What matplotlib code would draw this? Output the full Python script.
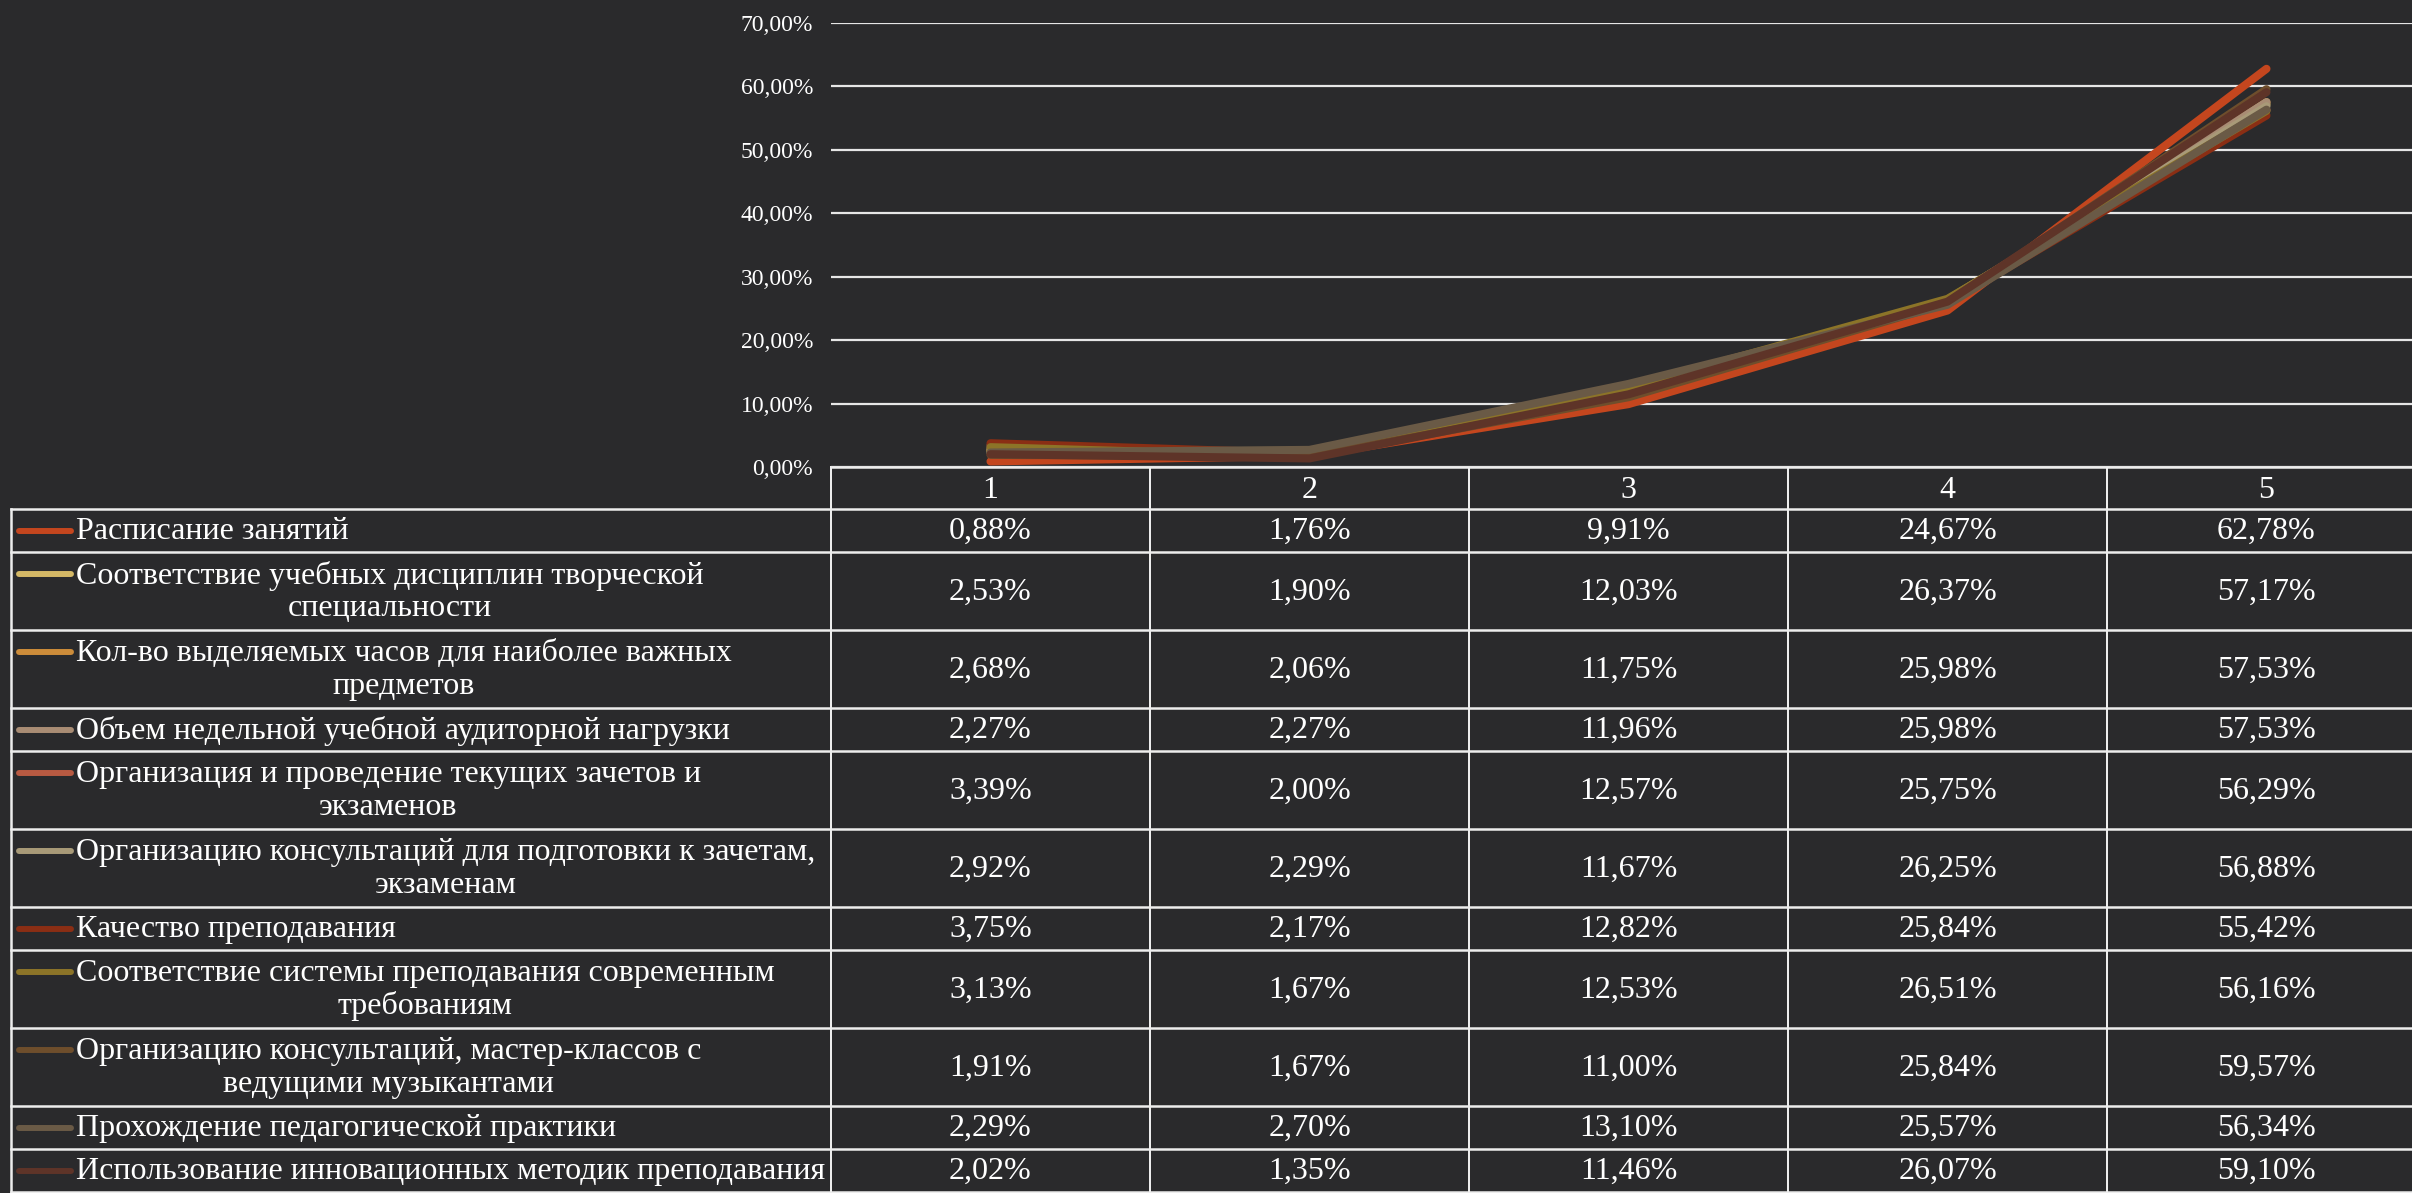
import matplotlib.pyplot as plt
from matplotlib.ticker import FuncFormatter

plt.rcParams['font.family'] = ['Liberation Serif', 'DejaVu Serif']

categories = ['1', '2', '3', '4', '5']

series_names = [
    'Расписание занятий',
    'Соответствие учебных дисциплин творческой\nспециальности',
    'Кол-во выделяемых часов для наиболее важных\nпредметов',
    'Объем недельной учебной аудиторной нагрузки',
    'Организация и проведение текущих зачетов и\nэкзаменов',
    'Организацию консультаций для подготовки к зачетам,\nэкзаменам',
    'Качество преподавания',
    'Соответствие системы преподавания современным\nтребованиям',
    'Организацию консультаций, мастер-классов с\nведущими музыкантами',
    'Прохождение педагогической практики',
    'Использование инновационных методик преподавания',
]

raspisanie = [0.88, 1.76, 9.91, 24.67, 62.78]
sootv_discipl = [2.53, 1.90, 12.03, 26.37, 57.17]
kol_chasov = [2.68, 2.06, 11.75, 25.98, 57.53]
obem_nagruzki = [2.27, 2.27, 11.96, 25.98, 57.53]
zachety = [3.39, 2.00, 12.57, 25.75, 56.29]
konsult_zachety = [2.92, 2.29, 11.67, 26.25, 56.88]
kachestvo = [3.75, 2.17, 12.82, 25.84, 55.42]
sootv_sistemy = [3.13, 1.67, 12.53, 26.51, 56.16]
master_klassy = [1.91, 1.67, 11.00, 25.84, 59.57]
praktika = [2.29, 2.70, 13.10, 25.57, 56.34]
innovacii = [2.02, 1.35, 11.46, 26.07, 59.10]

values = [raspisanie, sootv_discipl, kol_chasov, obem_nagruzki, zachety,
          konsult_zachety, kachestvo, sootv_sistemy, master_klassy,
          praktika, innovacii]

colors = ['#C4461E', '#D4B866', '#CC8C3A', '#A88C74', '#B85A42', '#A89A78',
          '#8A2E14', '#8C7428', '#6E4E2C', '#6A5A46', '#5E3428']

bg = '#2A2A2C'
W, H = 2412, 1193

# layout in pixels
plot_left, plot_top, plot_bottom = 831, 23, 467
col_w = 319
table_left = 11
header_h = 42
row_h1, row_h2 = 43, 78
fs = 23

fig = plt.figure(figsize=(W / 100, H / 100), dpi=100, facecolor=bg)

# table / legend overlay in pixel coords
ov = fig.add_axes([0, 0, 1, 1])
ov.set_xlim(0, W)
ov.set_ylim(H, 0)
ov.axis('off')
ov.patch.set_alpha(0)

# chart
n = len(categories)
ax = fig.add_axes([plot_left / W, (H - plot_bottom) / H,
                   n * col_w / W, (plot_bottom - plot_top) / H])
ax.set_facecolor('none')
x = list(range(1, n + 1))
for vals, c in zip(values, colors):
    ax.plot(x, vals, color=c, lw=5.8, solid_capstyle='round',
            solid_joinstyle='round', zorder=3)
ax.set_xlim(0.5, n + 0.5)
ax.set_ylim(0, 70)
ax.set_yticks(range(0, 71, 10))
ax.yaxis.set_major_formatter(FuncFormatter(lambda v, p: f'{v:.2f}'.replace('.', ',') + '%'))
ax.set_xticks([])
ax.tick_params(axis='y', length=0, pad=13, labelsize=17, labelcolor='white')
ax.grid(axis='y', color='#E6E6E6', lw=1.6, zorder=1)
for s in ax.spines.values():
    s.set_visible(False)

# row boundaries
lw_t = 1.8
tc = '#EDEDED'
y = plot_bottom
ov.plot([plot_left, W], [y, y], color=tc, lw=lw_t)
y_head_end = y + header_h
for i, c in enumerate(categories):
    ov.text(plot_left + (i + 0.5) * col_w, y + header_h / 2 + 2, c,
            color='white', fontsize=fs, ha='center', va='center')

ys = [y_head_end]
for name in series_names:
    h = row_h2 if '\n' in name else row_h1
    ys.append(ys[-1] + h)

for yy in ys:
    ov.plot([table_left, W], [yy, yy], color=tc, lw=lw_t)
ov.plot([table_left, table_left], [ys[0], ys[-1]], color=tc, lw=lw_t)
for i in range(n + 1):
    xx = plot_left + i * col_w
    ov.plot([xx, xx], [plot_bottom, ys[-1]], color=tc, lw=lw_t * 0.8)

for k, (name, vals, c) in enumerate(zip(series_names, values, colors)):
    top, bot = ys[k], ys[k + 1]
    mid = (top + bot) / 2
    key_y = mid - 17 if '\n' in name else mid
    ov.plot([19, 71], [key_y, key_y], color=c, lw=4.3, solid_capstyle='round')
    ov.text(76, mid + 1, name, color='white', fontsize=fs, ha='left',
            va='center', multialignment='center', linespacing=1.15)
    for i, v in enumerate(vals):
        ov.text(plot_left + (i + 0.5) * col_w, mid + 1,
                f'{v:.2f}'.replace('.', ',') + '%',
                color='white', fontsize=fs, ha='center', va='center')

fig.savefig('out.png', dpi=100, facecolor=bg)
